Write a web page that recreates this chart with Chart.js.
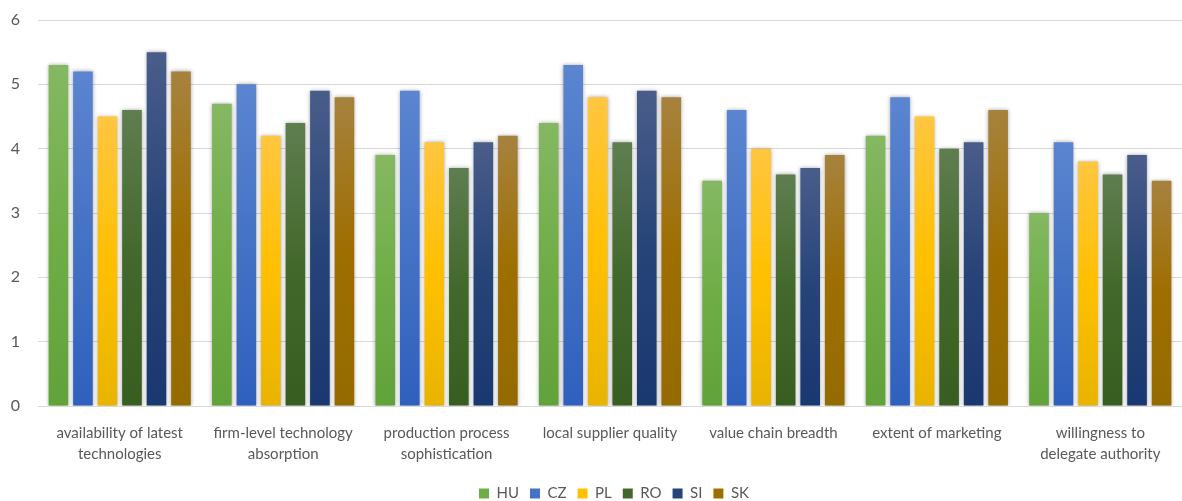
<!DOCTYPE html>
<html>
<head>
<meta charset="utf-8">
<script src="https://cdn.jsdelivr.net/npm/chart.js@4/dist/chart.umd.min.js"></script>
<style>
  html, body { margin: 0; padding: 0; background: #ffffff; }
  #wrap { width: 1182px; height: 501px; position: relative; }
</style>
</head>
<body>
<div id="wrap"><canvas id="c"></canvas></div>
<script>
// Competitiveness sub-indicators per country (score 0-6)
const categories = [
  ['availability of latest', 'technologies'],
  ['firm-level technology', 'absorption'],
  ['production process', 'sophistication'],
  ['local supplier quality'],
  ['value chain breadth'],
  ['extent of marketing'],
  ['willingness to', 'delegate authority']
];
const countries = ['HU', 'CZ', 'PL', 'RO', 'SI', 'SK'];
const HU = [5.3, 4.7, 3.9, 4.4, 3.5, 4.2, 3.0];
const CZ = [5.2, 5.0, 4.9, 5.3, 4.6, 4.8, 4.1];
const PL = [4.5, 4.2, 4.1, 4.8, 4.0, 4.5, 3.8];
const RO = [4.6, 4.4, 3.7, 4.1, 3.6, 4.0, 3.6];
const SI = [5.5, 4.9, 4.1, 4.9, 3.7, 4.1, 3.9];
const SK = [5.2, 4.8, 4.2, 4.8, 3.9, 4.6, 3.5];
const seriesValues = [HU, CZ, PL, RO, SI, SK];
const yTicks = [0, 1, 2, 3, 4, 5, 6];

// gradient stops per series: top, middle, bottom
const palette = [
  ['#84b862', '#70ad47', '#62a23a'],
  ['#5b85d0', '#4472c4', '#2f60bd'],
  ['#ffc640', '#ffc000', '#e8b400'],
  ['#5f7e50', '#43682b', '#375e20'],
  ['#4a5d8a', '#264478', '#1a3870'],
  ['#a6823e', '#9e6e00', '#946b00']
];

function barGradient(idx) {
  return function (ctx) {
    const chart = ctx.chart;
    const ys = chart.scales && chart.scales.y;
    if (!ys || ctx.type !== 'data') return palette[idx][1];
    const top = ys.getPixelForValue(ctx.raw);
    const bottom = ys.getPixelForValue(0);
    if (!isFinite(top) || !isFinite(bottom) || top === bottom) return palette[idx][1];
    const g = chart.ctx.createLinearGradient(0, top, 0, bottom);
    g.addColorStop(0, palette[idx][0]);
    g.addColorStop(0.5, palette[idx][1]);
    g.addColorStop(1, palette[idx][2]);
    return g;
  };
}

// soft shadow around the bars
const barShadow = {
  id: 'barShadow',
  beforeDatasetsDraw(chart) {
    const c = chart.ctx;
    c.save();
    c.shadowColor = 'rgba(0,0,0,0.35)';
    c.shadowBlur = 4;
    c.shadowOffsetX = 0;
    c.shadowOffsetY = 0;
  },
  afterDatasetsDraw(chart) {
    chart.ctx.restore();
  }
};

// legend sits a little right of the canvas centre
const legendShift = {
  id: 'legendShift',
  afterLayout(chart) {
    if (chart.legend) {
      chart.legend.left += 23;
      chart.legend.right += 23;
    }
  }
};

const FONT = 'Lato, "Open Sans", "Liberation Sans", sans-serif';
const TEXT = '#595959';

new Chart(document.getElementById('c'), {
  type: 'bar',
  data: {
    labels: categories,
    datasets: countries.map((name, i) => ({
      label: name,
      data: seriesValues[i],
      backgroundColor: barGradient(i),
      borderWidth: 0,
      barPercentage: 0.8,
      categoryPercentage: 0.9
    }))
  },
  plugins: [barShadow, legendShift],
  options: {
    responsive: true,
    maintainAspectRatio: false,
    animation: false,
    layout: { padding: { top: 20, right: 0, left: 0, bottom: -10 } },
    scales: {
      x: {
        grid: { display: false },
        border: { color: '#d9d9d9', width: 1 },
        afterFit(axis) { axis.height += 1; },
        ticks: {
          color: TEXT,
          font: { family: FONT, size: 15, lineHeight: 1.4 },
          maxRotation: 0,
          autoSkip: false,
          padding: 9
        }
      },
      y: {
        min: 0,
        max: 6,
        afterBuildTicks(axis) { axis.ticks = yTicks.map(v => ({ value: v })); },
        afterFit(axis) {
          axis.width = 38;
          axis.paddingTop = 0;
          axis.paddingBottom = 0;
        },
        grid: { color: '#d9d9d9', lineWidth: 1, drawTicks: false },
        border: { display: false },
        ticks: {
          color: TEXT,
          font: { family: FONT, size: 16 },
          padding: 18
        }
      }
    },
    plugins: {
      legend: {
        position: 'bottom',
        labels: {
          color: TEXT,
          font: { family: FONT, size: 15 },
          boxWidth: 10,
          boxHeight: 10,
          padding: 11,
          generateLabels(chart) {
            return countries.map((name, i) => ({
              text: name,
              fillStyle: palette[i][1],
              strokeStyle: palette[i][1],
              lineWidth: 0,
              hidden: false,
              datasetIndex: i,
              fontColor: TEXT
            }));
          }
        }
      },
      tooltip: { enabled: false }
    }
  }
});
</script>
</body>
</html>
